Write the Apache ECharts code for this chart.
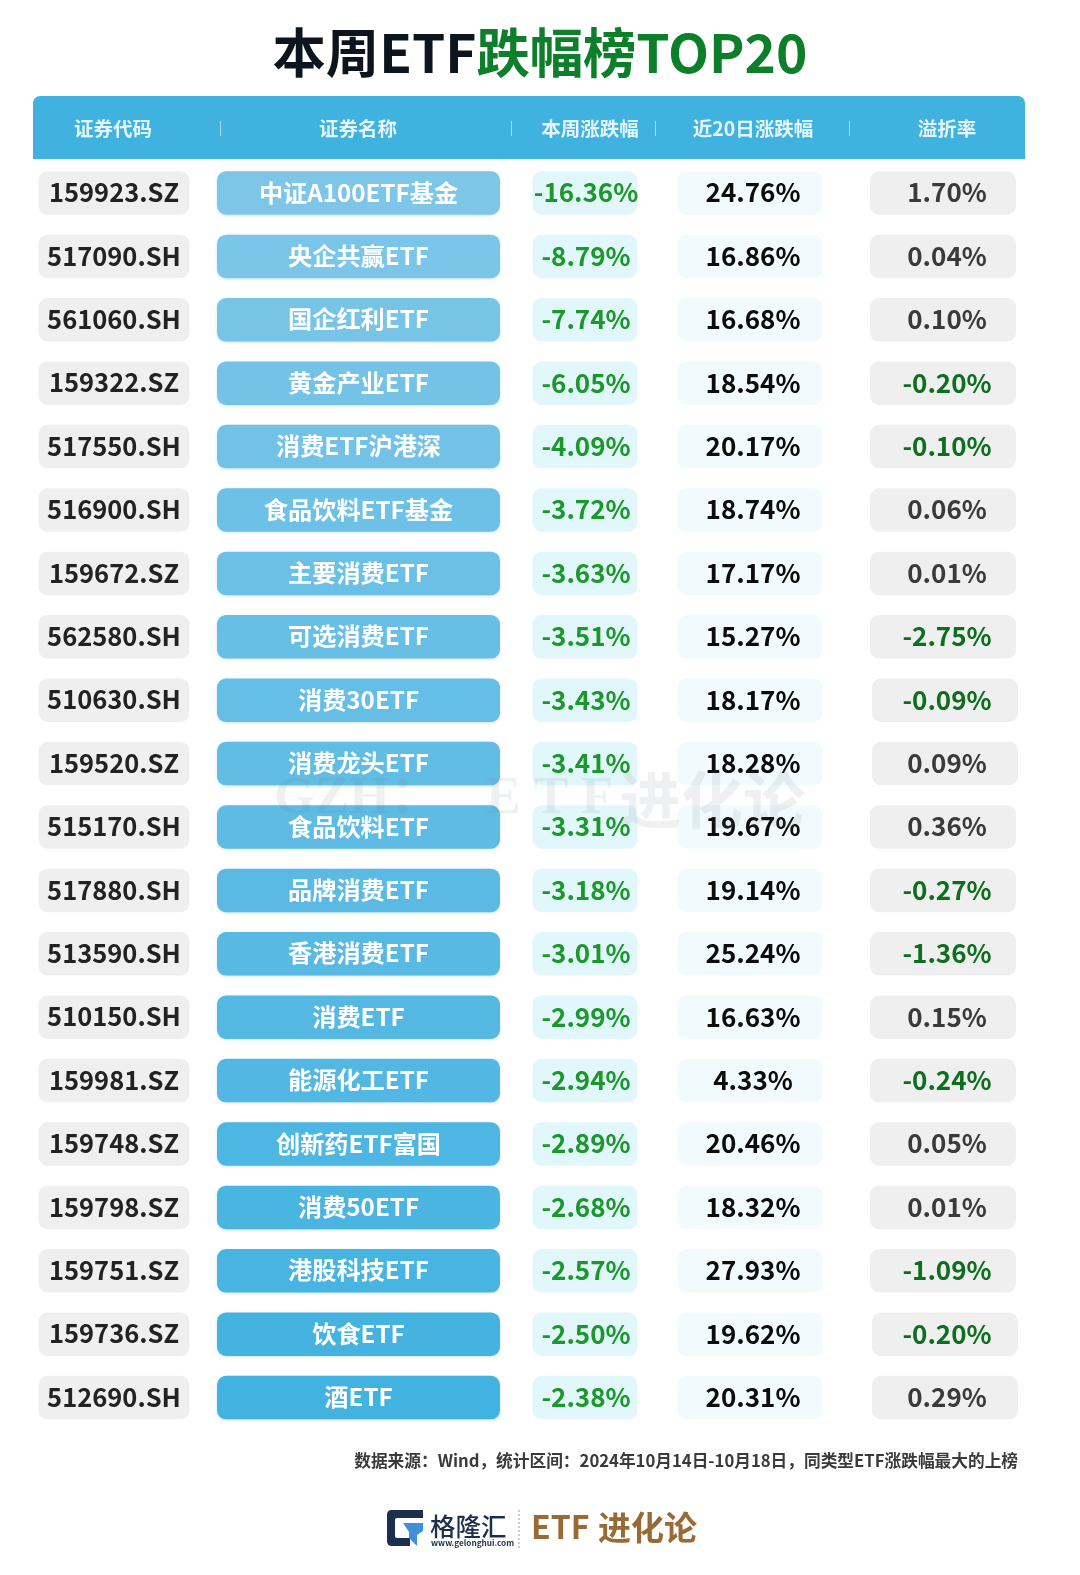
<!DOCTYPE html>
<html><head><meta charset="utf-8">
<style>html,body{margin:0;padding:0;background:#fff}#c{width:1080px;height:1575px}</style>
<script src="https://cdn.jsdelivr.net/npm/echarts@6/dist/echarts.min.js"></script>
</head><body><div id="c"></div>
<script>
const headers = ['证券代码','证券名称','本周涨跌幅','近20日涨跌幅','溢折率'];
const codes = ['159923.SZ','517090.SH','561060.SH','159322.SZ','517550.SH','516900.SH','159672.SZ','562580.SH','510630.SH','159520.SZ','515170.SH','517880.SH','513590.SH','510150.SH','159981.SZ','159748.SZ','159798.SZ','159751.SZ','159736.SZ','512690.SH'];
const names = ['中证A100ETF基金','央企共赢ETF','国企红利ETF','黄金产业ETF','消费ETF沪港深','食品饮料ETF基金','主要消费ETF','可选消费ETF','消费30ETF','消费龙头ETF','食品饮料ETF','品牌消费ETF','香港消费ETF','消费ETF','能源化工ETF','创新药ETF富国','消费50ETF','港股科技ETF','饮食ETF','酒ETF'];
const weekly = [-16.36,-8.79,-7.74,-6.05,-4.09,-3.72,-3.63,-3.51,-3.43,-3.41,-3.31,-3.18,-3.01,-2.99,-2.94,-2.89,-2.68,-2.57,-2.50,-2.38];
const day20 = [24.76,16.86,16.68,18.54,20.17,18.74,17.17,15.27,18.17,18.28,19.67,19.14,25.24,16.63,4.33,20.46,18.32,27.93,19.62,20.31];
const premium = [1.70,0.04,0.10,-0.20,-0.10,0.06,0.01,-2.75,-0.09,0.09,0.36,-0.27,-1.36,0.15,-0.24,0.05,0.01,-1.09,-0.20,0.29];

const CJK = '"Noto Sans CJK SC","Noto Sans",sans-serif';
const pct = v => v.toFixed(2) + '%';
const RH = 43.5;
const lerp = (a,b,t)=>Math.round(a+(b-a)*t);
const pillColor = i => { const t=i/19; return `rgb(${lerp(125,66,t)},${lerp(198,178,t)},${lerp(232,224,t)})`; };
const shifted = new Set([8,9,18,19]);

function col(cfg, texts){
  return {
    type:'custom', coordinateSystem:'cartesian2d', silent:true, clip:false,
    encode:{x:0,y:1},
    data: texts.map((t,i)=>[cfg.x,i,t]),
    renderItem(params,api){
      const i = api.value(1);
      const p = api.coord([api.value(0), i]);
      const off = cfg.shift && shifted.has(i) ? 2 : 0;
      const t = texts[i];
      return {type:'group',children:[
        {type:'rect',shape:{x:p[0]-cfg.w/2+off,y:p[1]-RH/2,width:cfg.w,height:RH,r:cfg.r},
         style:{fill:cfg.fill(i),shadowBlur:cfg.sb||0,shadowColor:'rgba(80,150,190,.25)',shadowOffsetY:cfg.sb?1:0}},
        {type:'text',x:p[0]+(cfg.dx||0),y:p[1]-0.5,
         style:{text:t,fill:cfg.color(i),font:`${cfg.weight} ${cfg.size}px ${CJK}`,align:'center',verticalAlign:'middle'}}
      ]};
    }
  };
}

const logoSeries = {
  type:'custom', coordinateSystem:'none', silent:true, clip:false, data:[[0]],
  renderItem(){
    return {type:'group',children:[
      {type:'path',shape:{pathData:'M392 1510H423V1518H397Q395 1518 395 1520V1536Q395 1538 397 1538H410V1546H392Q387 1546 387 1541V1515Q387 1510 392 1510Z',x:387,y:1510,width:36,height:36},style:{fill:'#1c2f4d'}},
      {type:'path',shape:{pathData:'M403 1523H423V1531L417 1535V1546L409 1538V1532Z',x:403,y:1523,width:20,height:23},style:{fill:'#3f8fdc'}}
    ]};
  }
};

const chart = echarts.init(document.getElementById('c'),null,{renderer:'canvas',width:1080,height:1575});
const headerX = [113,358,590,753,947];
const sepX = [220,511,655,849];
const graphics = [
  {type:'rect',z:1,shape:{x:33,y:96,width:992,height:63,r:[7,7,0,0]},style:{fill:'#3fb2df'}},
  ...headers.map((h,i)=>({type:'text',z:2,x:headerX[i],y:128.5,style:{text:h,fill:'#e6f5fb',font:`bold 19.5px ${CJK}`,align:'center',verticalAlign:'middle'}})),
  ...sepX.map(x=>({type:'rect',z:2,shape:{x:x,y:121,width:1,height:15},style:{fill:'rgba(255,255,255,.55)'}})),
  {type:'text',z:2,x:1018,y:1461,style:{text:'数据来源：Wind，统计区间：2024年10月14日-10月18日，同类型ETF涨跌幅最大的上榜',fill:'#3a3a3a',font:`bold 16.7px ${CJK}`,align:'right',verticalAlign:'middle'}},
  {type:'text',z:20,x:274,y:800,style:{text:'GZH：',fill:'rgba(110,120,130,.11)',font:'bold 52px "Liberation Serif","Noto Sans CJK SC",serif',align:'left',verticalAlign:'middle'}},
  {type:'text',z:20,x:486,y:800,style:{text:'E T F',fill:'rgba(110,120,130,.11)',font:'bold 52px "Liberation Serif",serif',align:'left',verticalAlign:'middle'}},
  {type:'text',z:20,x:619,y:800,style:{text:'进化论',fill:'rgba(110,120,130,.11)',font:'bold 62px "Noto Sans CJK SC",serif',align:'left',verticalAlign:'middle'}},
  {type:'text',z:2,x:430,y:1526,style:{text:'格隆汇',fill:'#1c2f4d',font:`500 25.5px ${CJK}`,align:'left',verticalAlign:'middle'}},
  {type:'text',z:2,x:431,y:1543,style:{text:'www.gelonghui.com',fill:'#1c2f4d',font:`bold 8.2px ${CJK}`,align:'left',verticalAlign:'middle'}},
  {type:'line',z:2,shape:{x1:519,y1:1510,x2:519,y2:1549},style:{stroke:'#999',lineWidth:1,lineDash:[2,2]}},
  {type:'text',z:2,x:531,y:1527,style:{text:'ETF',fill:'#9a6a34',font:`bold 32px ${CJK}`,align:'left',verticalAlign:'middle'}},
  {type:'text',z:2,x:598,y:1527,style:{text:'进化论',fill:'#9a6a34',font:`bold 33px ${CJK}`,align:'left',verticalAlign:'middle'}}
];

chart.setOption({
  animation:false, backgroundColor:'#fff',
  title:{text:'{a|本周ETF}{b|跌幅榜TOP20}',left:'center',top:19,padding:0,
    textStyle:{rich:{
      a:{fontFamily:CJK,fontWeight:'bold',fontSize:53.3,color:'#0c151d',lineHeight:68},
      b:{fontFamily:CJK,fontWeight:'bold',fontSize:53.3,color:'#0d7f2b',lineHeight:68}}}},
  grid:{left:0,right:0,top:161.3,height:1268},
  xAxis:{type:'value',min:0,max:1080,show:false},
  yAxis:{type:'category',inverse:true,show:false,data:codes},
  graphic:graphics,
  series:[
    col({x:114,w:151,r:9,fill:()=>'#efefef',color:()=>'#222',weight:'bold',size:25.5},codes),
    col({x:358.5,w:283,r:9,fill:pillColor,color:()=>'#fff',weight:'bold',size:24.2,sb:3},names),
    col({x:585,w:105,r:9,fill:()=>'#e2f7fc',color:()=>'#1b982a',weight:'bold',size:26,dx:1},weekly.map(pct)),
    col({x:750,w:145,r:9,fill:()=>'#f1fbfe',color:()=>'#0c0c0c',weight:'bold',size:26,dx:3},day20.map(pct)),
    col({x:943,w:146,r:9,shift:true,fill:()=>'#efefef',color:i=>premium[i]<0?'#0d6e1e':'#3a3a3a',weight:'bold',size:26,dx:4},premium.map(pct)),
    logoSeries
  ]
});
</script></body></html>
